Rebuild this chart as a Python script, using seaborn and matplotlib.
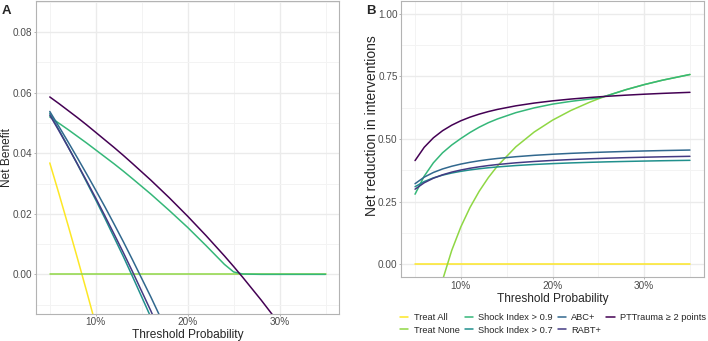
import matplotlib
matplotlib.use('Agg')
import matplotlib.pyplot as plt
import seaborn as sns
import pandas as pd
from matplotlib.ticker import FixedLocator, FuncFormatter

# threshold probabilities (%)
thresholds = [5, 6, 7, 8, 9, 10, 11, 12, 13, 14, 16, 18, 20, 22, 24, 25, 26, 28, 30, 32, 35]

models = ['Treat All', 'Treat None', 'Shock Index > 0.9', 'Shock Index > 0.7',
          'ABC+', 'RABT+', 'PTTrauma ≥ 2 points']
colors = ['#FDE725', '#8FD744', '#35B779', '#21908D', '#31688E', '#443A83', '#440154']

# panel A: net benefit
nb_treat_all = [0.0368, 0.0266, 0.0161, 0.0054, -0.0055, -0.0167, -0.0281, -0.0398, -0.0517, -0.0640, -0.0893,
                -0.1159, -0.1438, -0.1731, -0.2039, -0.2200, -0.2365, -0.2708, -0.3071, -0.3456, -0.4077]
nb_treat_none = [0.0, 0.0, 0.0, 0.0, 0.0, 0.0, 0.0, 0.0, 0.0, 0.0, 0.0,
                 0.0, 0.0, 0.0, 0.0, 0.0, 0.0, 0.0, 0.0, 0.0, 0.0]
nb_si09 = [0.0520, 0.0499, 0.0478, 0.0456, 0.0434, 0.0411, 0.0388, 0.0365, 0.0341, 0.0316, 0.0265,
           0.0211, 0.0155, 0.0095, 0.0033, 0.0008, 0.0001, 0.0, 0.0, 0.0, 0.0]
nb_si07 = [0.0532, 0.0477, 0.0421, 0.0364, 0.0305, 0.0246, 0.0185, 0.0122, 0.0059, -0.0007, -0.0142,
           -0.0284, -0.0433, -0.0589, -0.0754, -0.0840, -0.0928, -0.1111, -0.1305, -0.1511, -0.1842]
nb_abc = [0.0538, 0.0488, 0.0437, 0.0385, 0.0332, 0.0278, 0.0223, 0.0166, 0.0108, 0.0048, -0.0075,
          -0.0204, -0.0339, -0.0482, -0.0632, -0.0710, -0.0790, -0.0957, -0.1133, -0.1320, -0.1621]
nb_rabt = [0.0526, 0.0474, 0.0420, 0.0365, 0.0309, 0.0252, 0.0193, 0.0133, 0.0072, 0.0009, -0.0121,
           -0.0258, -0.0401, -0.0551, -0.0710, -0.0792, -0.0877, -0.1053, -0.1240, -0.1437, -0.1756]
nb_pttrauma = [0.0586, 0.0564, 0.0541, 0.0518, 0.0494, 0.0469, 0.0444, 0.0419, 0.0393, 0.0366, 0.0311,
               0.0253, 0.0192, 0.0128, 0.0061, 0.0026, -0.0010, -0.0085, -0.0164, -0.0248, -0.0383]

# panel B: net reduction in interventions
red_treat_all = [0.0, 0.0, 0.0, 0.0, 0.0, 0.0, 0.0, 0.0, 0.0, 0.0, 0.0,
                 0.0, 0.0, 0.0, 0.0, 0.0, 0.0, 0.0, 0.0, 0.0, 0.0]
red_treat_none = [-0.700, -0.4167, -0.2143, -0.0625, 0.0556, 0.150, 0.2273, 0.2917, 0.3462, 0.3929, 0.4688,
                  0.5278, 0.575, 0.6136, 0.6458, 0.660, 0.6731, 0.6964, 0.7167, 0.7344, 0.7571]
red_si09 = [0.280, 0.352, 0.405, 0.445, 0.476, 0.502, 0.526, 0.547, 0.565, 0.580, 0.605,
            0.624, 0.639, 0.650, 0.659, 0.663, 0.6731, 0.6964, 0.7167, 0.7344, 0.7571]
red_si07 = [0.3099, 0.3304, 0.3450, 0.3559, 0.3644, 0.3712, 0.3768, 0.3814, 0.3854, 0.3887, 0.3942,
            0.3985, 0.4019, 0.4047, 0.4070, 0.4080, 0.4090, 0.4106, 0.4121, 0.4134, 0.4150]
red_abc = [0.3219, 0.3480, 0.3666, 0.3806, 0.3914, 0.4001, 0.4072, 0.4132, 0.4182, 0.4225, 0.4294,
           0.4349, 0.4392, 0.4428, 0.4457, 0.4470, 0.4482, 0.4504, 0.4523, 0.4539, 0.4560]
red_rabt = [0.3000, 0.3255, 0.3437, 0.3573, 0.3680, 0.3764, 0.3834, 0.3892, 0.3941, 0.3983, 0.4051,
            0.4104, 0.4146, 0.4181, 0.4210, 0.4223, 0.4235, 0.4256, 0.4274, 0.4290, 0.4310]
red_pttrauma = [0.4140, 0.4669, 0.5047, 0.5330, 0.5550, 0.5727, 0.5871, 0.5991, 0.6093, 0.6180, 0.6322,
                0.6432, 0.6520, 0.6592, 0.6652, 0.6679, 0.6703, 0.6747, 0.6785, 0.6818, 0.6860]


def long_table(series):
    frames = []
    for name, values in zip(models, series):
        frames.append(pd.DataFrame({'threshold': thresholds, 'value': values, 'model': name}))
    return pd.concat(frames, ignore_index=True)


nb = long_table([nb_treat_all, nb_treat_none, nb_si09, nb_si07, nb_abc, nb_rabt, nb_pttrauma])
red = long_table([red_treat_all, red_treat_none, red_si09, red_si07, red_abc, red_rabt, red_pttrauma])

sns.set_theme(style='whitegrid')
plt.rcParams['font.family'] = ['Liberation Sans', 'DejaVu Sans']

fig = plt.figure(figsize=(7.08, 3.41), dpi=100)
ax1 = fig.add_axes([36 / 708, 27.3 / 341, 303.3 / 708, 312.7 / 341])
ax2 = fig.add_axes([401.3 / 708, 64 / 341, 302.4 / 708, 276 / 341])

palette = dict(zip(models, colors))
sns.lineplot(data=nb, x='threshold', y='value', hue='model', hue_order=models,
             palette=palette, linewidth=1.1, legend=False, ax=ax1)
sns.lineplot(data=red, x='threshold', y='value', hue='model', hue_order=models,
             palette=palette, linewidth=1.1, legend=True, ax=ax2)


def style(ax, ymajor, yminor, fmt):
    ax.set_facecolor('white')
    ax.set_xlim(3.5, 36.5)
    ax.xaxis.set_major_locator(FixedLocator([10, 20, 30]))
    ax.xaxis.set_minor_locator(FixedLocator([5, 15, 25, 35]))
    ax.xaxis.set_major_formatter(FuncFormatter(lambda v, p: f'{v:.0f}%'))
    ax.yaxis.set_major_locator(FixedLocator(ymajor))
    ax.yaxis.set_minor_locator(FixedLocator(yminor))
    ax.yaxis.set_major_formatter(FuncFormatter(lambda v, p: fmt.format(v)))
    ax.grid(which='major', color='#EBEBEB', linewidth=1.0)
    ax.grid(which='minor', color='#F3F3F3', linewidth=0.7)
    ax.set_axisbelow(True)
    for s in ax.spines.values():
        s.set_color('#B3B3B3')
        s.set_linewidth(0.8)
    ax.tick_params(which='major', length=1.6, width=0.7, color='#B3B3B3',
                   labelsize=7.2, labelcolor='#4D4D4D', pad=1.0, bottom=True, left=True)
    ax.tick_params(which='minor', length=0)


style(ax1, [0.0, 0.02, 0.04, 0.06, 0.08], [-0.01, 0.01, 0.03, 0.05, 0.07, 0.09], '{:.2f}')
ax1.set_ylim(-0.013, 0.0903)
style(ax2, [0.0, 0.25, 0.5, 0.75, 1.0], [0.125, 0.375, 0.625, 0.875], '{:.2f}')
ax2.set_ylim(-0.05, 1.05)

ax1.set_xlabel('Threshold Probability', fontsize=8.6, va='center')
ax1.xaxis.set_label_coords(0.5, -0.068)
ax1.set_ylabel('Net Benefit', fontsize=8.6, va='center')
ax1.yaxis.set_label_coords(-0.095, 0.5)
ax2.set_xlabel('Threshold Probability', fontsize=8.6, va='center')
ax2.xaxis.set_label_coords(0.5, -0.078)
ax2.set_ylabel('Net reduction in interventions', fontsize=10, va='center')
ax2.yaxis.set_label_coords(-0.098, 0.548)

handles, labels = ax2.get_legend_handles_labels()
ax2.get_legend().remove()
fig.legend(handles, labels, loc='center', bbox_to_anchor=(553 / 708, 17 / 341),
           ncol=4, frameon=False, fontsize=6.7, handlelength=0.9, handletextpad=0.55,
           columnspacing=0.55, labelspacing=0.35, borderpad=0, borderaxespad=0)

fig.text(2 / 708, 1 - 5 / 341, 'A', fontsize=9.5, fontweight='bold', va='top', ha='left')
fig.text(366 / 708, 1 - 5 / 341, 'B', fontsize=9.5, fontweight='bold', va='top', ha='left')

fig.savefig('out.png', dpi=100)
